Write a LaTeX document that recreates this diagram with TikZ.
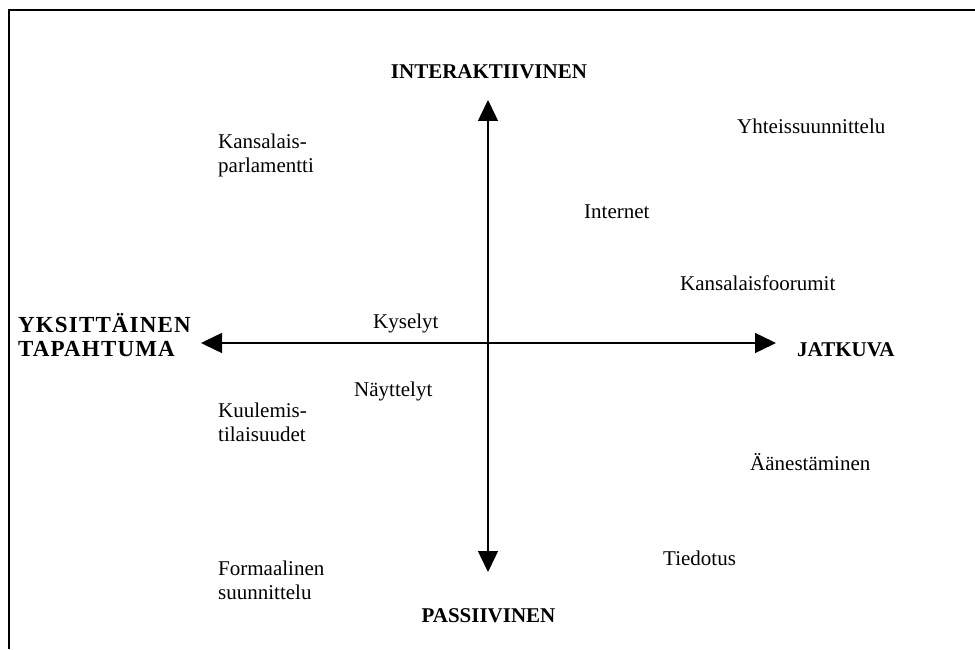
\documentclass[tikz,border=0pt]{standalone}
\usepackage{fontspec}
\setmainfont{Liberation Serif}
\usetikzlibrary{arrows.meta}
\begin{document}
\begin{tikzpicture}[x=1pt,y=1pt,
  lbl/.style={font=\fontsize{21}{24}\selectfont, inner sep=0pt, align=left, anchor=west},
  axlbl/.style={font=\fontsize{21}{25}\selectfont\bfseries, inner sep=0pt, align=left, anchor=base},
  axis/.style={line width=1.5pt, -{Triangle[length=21pt,width=20pt]}},
  frame/.style={line width=1.8pt}]
\useasboundingbox (0,0) rectangle (975,649);
% frame (top and left only)
\coordinate (fr) at (975,639);
\coordinate (fc) at (9,639);
\coordinate (fb) at (9,0);
\draw[frame] (fr) -- (fc) -- (fb);
% axes
\coordinate (o) at (488,306);
\coordinate (top) at (488,549);
\coordinate (bot) at (488,77);
\coordinate (lft) at (201,306);
\coordinate (rgt) at (776,306);
\draw[axis] (o) -- (top);
\draw[axis] (o) -- (bot);
\draw[axis] (o) -- (lft);
\draw[axis] (o) -- (rgt);
% axis labels
\node[axlbl] (inter) at (489,570) {INTERAKTIIVINEN};
\node[axlbl] (pass) at (488.5,27) {PASSIIVINEN};
\node[axlbl, anchor=base west, font=\fontsize{23}{25}\selectfont\bfseries\addfontfeature{LetterSpace=5}] (yks) at (18,292) {YKSITTÄINEN\\TAPAHTUMA};
\node[axlbl, anchor=base west] (jat) at (797,292) {JATKUVA};
% items
\node[lbl] (kp) at (218,494) {Kansalais-\\parlamentti};
\node[lbl] (yht) at (737,523) {Yhteissuunnittelu};
\node[lbl] (int) at (584,437) {Internet};
\node[lbl] (kf) at (680,366) {Kansalaisfoorumit};
\node[lbl] (kys) at (373,326) {Kyselyt};
\node[lbl] (nay) at (354,258) {Näyttelyt};
\node[lbl] (kt) at (218,227) {Kuulemis-\\tilaisuudet};
\node[lbl] (aan) at (750,187) {Äänestäminen};
\node[lbl] (fs) at (218,69) {Formaalinen\\suunnittelu};
\node[lbl] (tie) at (663,91) {Tiedotus};
\end{tikzpicture}
\end{document}
